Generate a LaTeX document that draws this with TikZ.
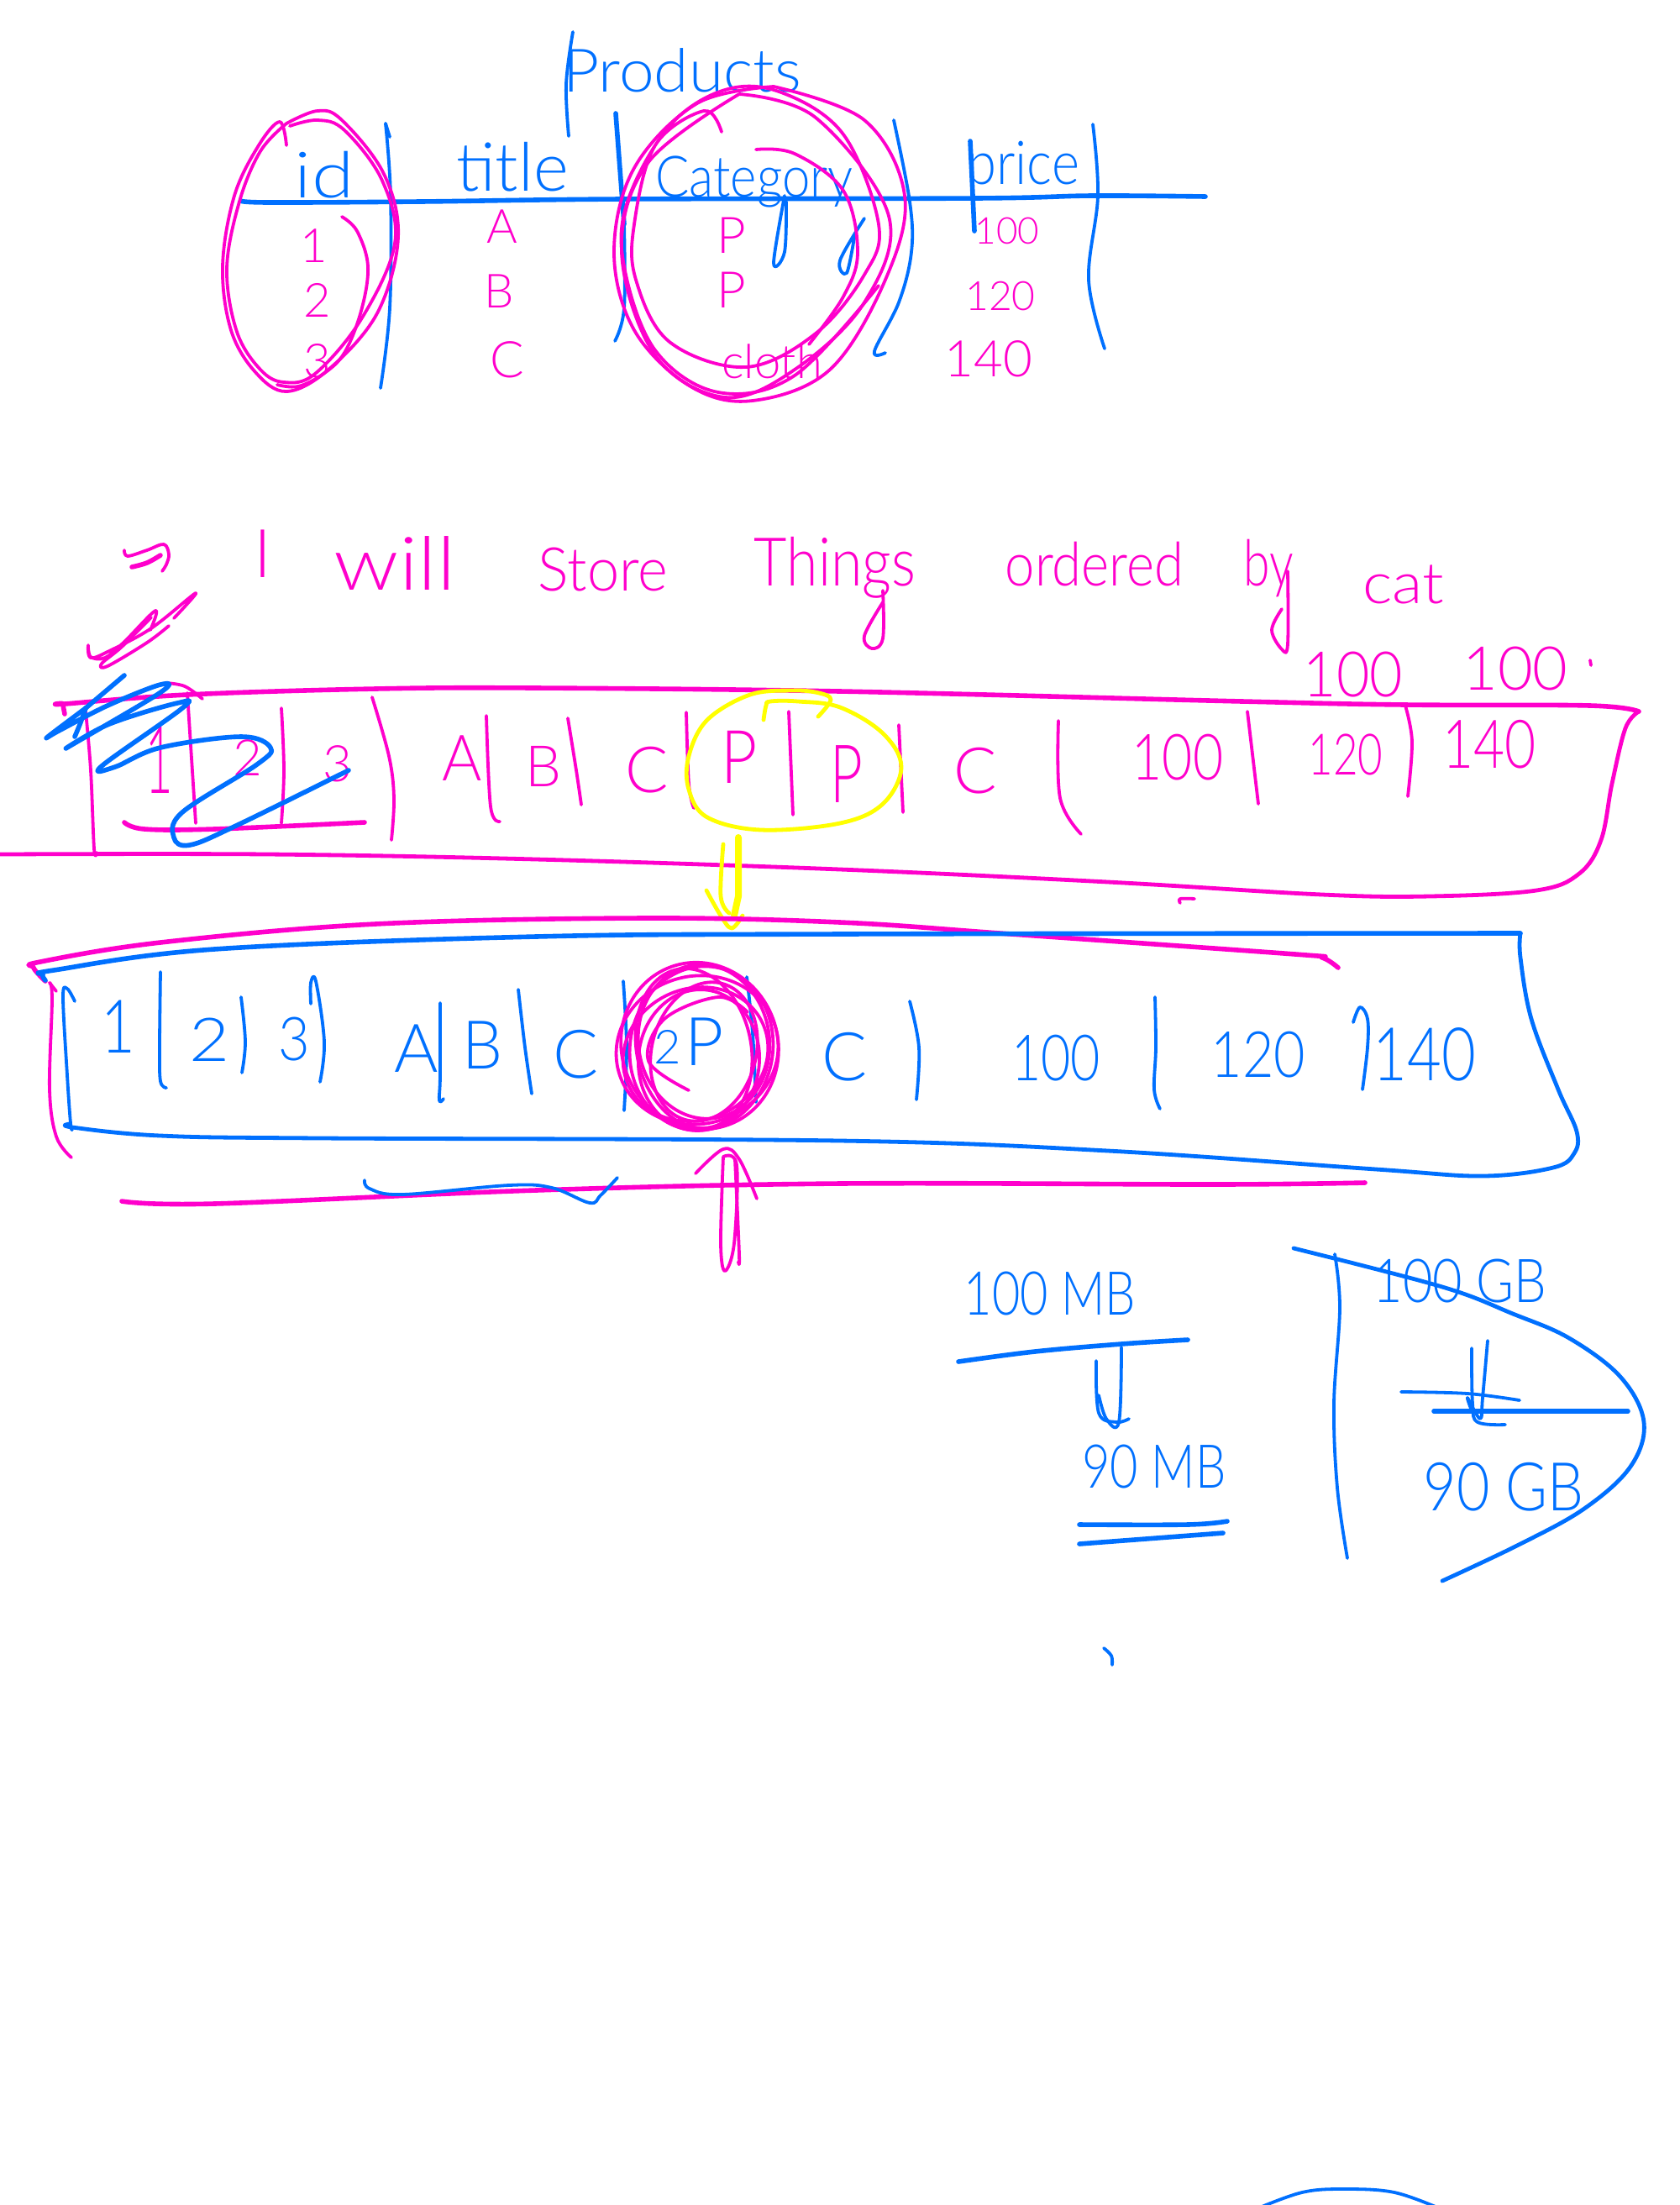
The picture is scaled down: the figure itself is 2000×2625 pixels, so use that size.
\documentclass[tikz,border=0pt]{standalone}
\usepackage{fontspec}
\usepackage{graphicx}
\setmainfont{Lato Light}
\definecolor{mag}{RGB}{255,0,204}
\definecolor{blu}{RGB}{0,112,255}
\definecolor{yel}{RGB}{255,255,0}
\newcommand\hand[4]{\fontsize{#1}{#1}\selectfont\scalebox{#2}[#3]{#4}}
\newcommand\pen[2]{\draw[#1] plot[smooth,tension=.6] coordinates {#2};}
\tikzset{
 bt/.style={draw=blu,line width=.95pt,line cap=round,line join=round},
 bm/.style={draw=blu,line width=1.2pt,line cap=round,line join=round},
 bw/.style={draw=blu,line width=1.4pt,line cap=round,line join=round},
 mt/.style={draw=mag,line width=.95pt,line cap=round,line join=round},
 mm/.style={draw=mag,line width=1.2pt,line cap=round,line join=round},
 mw/.style={draw=mag,line width=1.4pt,line cap=round,line join=round},
 yw/.style={draw=yel,line width=1.2pt,line cap=round,line join=round},
 hb/.style={text=blu,inner sep=0pt},
 hm/.style={text=mag,inner sep=0pt}
}
\begin{document}
\begin{tikzpicture}[x=.25pt,y=-.25pt]
\useasboundingbox (0,0) rectangle (2000,2625);
\fill[white] (0,0) rectangle (2000,2625);
\clip (0,0) rectangle (2000,2625);
% ---- table
\pen{bw}{(287,239) (320,241) (500,240) (739,237) (1162,236) (1300,233) (1435,234)}
\pen{bt}{(459,147) (464,163)}
\pen{bt}{(459,147) (465,233) (464,367) (453,462)}
\pen{bt}{(682,38) (674,100) (677,162)}
\pen{bw}{(733,135) (743,267)}
\pen{bt}{(743,267) (743,367) (732,406)}
\pen{bt}{(1064,143) (1083,240) (1085,300) (1070,360) (1041,418) (1054,420)}
\pen{bw}{(1155,168) (1160,275)}
\pen{bt}{(1301,148) (1307,233) (1296,333) (1315,415)}
\node[hb] (tprod) at (812,84) {\hand{17}{1.1}{1.05}{Products}};
\node[hb] (tid) at (386,208) {\hand{19}{1.2}{1}{id}};
\node[hb] (ttitle) at (610,199) {\hand{20}{1}{1}{title}};
\node[hb] (tcat) at (898,216) {\hand{17}{.88}{1}{Category}};
\node[hb] (tprice) at (1218,200) {\hand{18}{.88}{1}{price}};
\pen{bt}{(934,233) (921,313) (934,300) (936,240)}
\pen{bt}{(1029,260) (1000,310) (1008,325) (1017,283)}
\node[hm] (t1) at (374,293) {\hand{14}{1}{1}{1}};
\node[hm] (t2) at (378,357) {\hand{14}{1}{1}{2}};
\node[hm] (t3) at (378,430) {\hand{14}{1}{1}{3}};
\node[hm] (tA) at (598,270) {\hand{14}{1}{1}{A}};
\node[hm] (tB) at (594,347) {\hand{14}{1}{1}{B}};
\node[hm] (tC) at (604,428) {\hand{15}{1}{1}{C}};
\node[hm] (tP1) at (871,280) {\hand{15}{1}{1}{P}};
\node[hm] (tP2) at (871,345) {\hand{15}{1}{1}{P}};
\node[hm] (tcl) at (919,430) {\hand{14}{1}{1}{cloth}};
\node[hm] (t100) at (1199,275) {\hand{11}{1}{1}{100}};
\node[hm] (t120) at (1191,352) {\hand{12}{1}{1}{120}};
\node[hm] (t140) at (1177,427) {\hand{15}{1}{1}{140}};
% table ellipses
\pen{mt}{(341,173) (333,145) (308,173) (279,233) (265,317) (275,393) (304,443) (341,466) (391,440) (449,373) (474,283) (457,207) (407,143) (378,132) (341,147)}
\pen{mt}{(341,147) (310,180) (285,240) (270,320) (282,395) (310,440) (338,455) (375,445) (430,380) (470,290) (455,215) (410,155) (378,143) (345,150)}
\pen{mt}{(407,258) (425,275) (438,317) (430,370) (410,420) (385,445) (355,460) (330,458)}
\pen{mt}{(921,103) (1029,143) (1077,233) (1054,333) (988,440) (896,477) (822,460) (755,393) (731,300) (755,200) (830,123) (921,103)}
\pen{mt}{(880,112) (971,140) (1058,257) (1029,360) (946,440) (863,473) (780,423) (740,300) (772,193) (880,112)}
\pen{mt}{(859,157) (838,132) (780,173) (755,267) (757,333) (797,407) (888,437) (971,397) (1029,327) (1046,267) (1004,160) (930,110) (863,107) (797,150) (747,240) (743,317) (780,417) (855,467) (946,447) (1046,340)}
\pen{mt}{(900,178) (946,183) (1004,227) (1021,300) (1004,353) (963,410)}
% ---- sentence
\pen{mt}{(148,655) (152,662) (175,655) (195,648) (201,660) (198,672) (193,680)}
\pen{mw}{(157,675) (175,670) (191,661)}
\node[hm] (sI) at (313,659) {\hand{20}{1}{1}{I}};
\node[hm,anchor=base] (swill) at (470,702) {\hand{22}{1.15}{1}{will}};
\node[hm,anchor=base] (sstore) at (718,703) {\hand{18}{.95}{1}{Store}};
\node[hm,anchor=base] (sthings) at (994,697) {\hand{20}{.85}{1}{Things}};
\node[hm,anchor=base] (sord) at (1303,697) {\hand{18}{.88}{1}{ordered}};
\node[hm,anchor=base] (sby) at (1510,697) {\hand{19}{.75}{1}{by}};
\node[hm,anchor=base] (scat) at (1671,718) {\hand{17}{1.1}{1}{cat}};
\pen{mt}{(1051,703) (1051,760) (1038,772) (1029,757) (1051,717)}
\pen{mt}{(1533,680) (1533,767) (1526,773) (1514,750) (1526,725)}
% scribbles
\pen{mt}{(207,736) (233,706) (180,748) (130,775) (108,783) (105,768) (108,782) (125,783) (147,765) (185,727) (179,750)}
\pen{mt}{(201,745) (175,765) (128,793) (121,790) (145,770) (180,735)}
% ---- row 1
\node[hm] (n100a) at (1611,803) {\hand{17}{1}{1.1}{100}};
\node[hm] (n100b) at (1804,796) {\hand{18}{1}{1}{100}};
\pen{mt}{(1893,786) (1894,792)}
\pen{mw}{(77,850) (75,838) (77,838) (223,827) (447,820) (638,819) (1000,823) (1479,835) (1673,839) (1893,840) (1951,847)}
\pen{mm}{(1951,847) (1935,867) (1919,933) (1906,1000) (1880,1040) (1829,1060) (1702,1067) (1574,1065) (1319,1050) (1000,1035) (638,1023) (319,1017) (0,1017)}
\pen{mt}{(102,847) (108,917) (112,1010) (115,1015)}
\pen{mt}{(197,813) (220,817) (241,832)}
\pen{mt}{(223,825) (233,980)}
\pen{mt}{(335,843) (338,917) (335,980)}
\pen{mt}{(443,830) (463,900) (469,950) (466,1000)}
\pen{mt}{(579,852) (584,960) (595,978)}
\pen{mt}{(676,855) (686,917) (692,958)}
\pen{mt}{(817,848) (820,933) (826,962)}
\pen{mt}{(939,847) (944,970)}
\pen{mt}{(1070,863) (1075,967)}
\pen{mt}{(1260,858) (1262,950) (1287,993)}
\pen{mt}{(1485,847) (1498,957)}
\pen{mt}{(1673,840) (1681,883) (1676,948)}
\pen{mw}{(148,979) (172,987) (255,987) (434,979)}
\node[hm] (r1a) at (190,905) {\hand{14}{1}{2}{1}};
\node[hm] (r1b) at (295,902) {\hand{15}{1}{1}{2}};
\node[hm] (r1c) at (402,909) {\hand{15}{1}{1}{3}};
\node[hm] (r1d) at (550,903) {\hand{19}{.95}{1}{A}};
\node[hm] (r1e) at (647,912) {\hand{17}{1}{1}{B}};
\node[hm] (r1f) at (770,917) {\hand{19}{1}{1}{C}};
\node[hm] (r1g) at (880,901) {\hand{22}{.85}{1}{P}};
\node[hm] (r1h) at (1008,922) {\hand{24}{.7}{1}{P}};
\node[hm] (r1i) at (1161,918) {\hand{19}{1}{1}{C}};
\node[hm] (r1j) at (1402,902) {\hand{19}{.82}{1}{100}};
\node[hm] (r1k) at (1602,898) {\hand{17}{.75}{1}{120}};
\node[hm] (r1l) at (1773,886) {\hand{20}{.8}{1}{140}};
% blue scribble
\pen{bw}{(148,804) (102,843)}
\pen{bw}{(102,843) (57,877) (70,870) (128,840) (191,815) (190,825) (80,890) (130,862) (211,837) (217,843) (121,912) (137,913) (191,890) (287,877) (322,890) (306,910) (217,967) (207,997) (226,1006) (281,983) (415,917)}
\pen{bw}{(89,877) (96,860) (102,843)}
% yellow
\pen{yw}{(974,853) (989,833) (975,825) (944,822) (893,827) (842,857) (820,900) (820,940) (842,973) (906,988) (1000,980) (1051,957) (1073,913) (1051,873) (1000,842) (950,835) (917,835) (912,840) (909,857)}
\pen{yw}{(861,1005) (858,1067) (868,1087)}
\draw[yel,line width=2pt,line cap=round] (879,997) -- (879,1067) -- (874,1090);
\pen{yw}{(841,1060) (858,1090) (871,1105) (884,1090)}
% ---- row 2
\pen{mw}{(54,1168) (40,1152) (48,1145) (191,1122) (447,1100) (766,1093) (1000,1098) (1204,1112) (1542,1136) (1574,1140) (1593,1152)}
\pen{mt}{(59,1170) (67,1180)}
\pen{mt}{(59,1170) (62,1190) (59,1297) (67,1353) (85,1378)}
\pen{bw}{(54,1167) (51,1160) (64,1155) (255,1130) (638,1115) (1000,1112) (1810,1111)}
\pen{bm}{(1810,1111) (1810,1140) (1823,1213) (1855,1297) (1877,1347) (1874,1373) (1849,1390) (1765,1400) (1638,1392) (1319,1370) (1000,1358) (383,1355) (191,1352) (86,1342) (83,1338)}
\pen{bt}{(89,1192) (80,1177) (75,1187) (80,1280) (84,1337) (86,1345)}
\pen{bt}{(191,1157) (190,1247) (191,1287) (198,1295)}
\pen{bt}{(287,1187) (292,1240) (288,1277)}
\pen{bt}{(370,1195) (370,1170) (376,1168) (386,1240) (381,1288)}
\pen{bt}{(524,1194) (524,1280) (523,1310) (528,1308)}
\pen{bt}{(617,1178) (625,1247) (633,1302)}
\pen{bt}{(742,1168) (746,1247) (743,1322)}
\pen{bt}{(889,1163) (896,1230) (900,1312)}
\pen{bt}{(1083,1192) (1094,1247) (1091,1309)}
\pen{bt}{(1375,1187) (1376,1247) (1374,1297) (1381,1320)}
\pen{bt}{(1611,1217) (1619,1199) (1628,1213) (1628,1247) (1622,1297)}
\node[hb] (r2a) at (141,1222) {\hand{22}{.8}{1}{1}};
\node[hb] (r2b) at (250,1238) {\hand{18}{1.15}{1}{2}};
\node[hb] (r2c) at (350,1237) {\hand{18}{.9}{1}{3}};
\node[hb] (r2d) at (496,1248) {\hand{20}{1}{1}{A}};
\node[hb] (r2e) at (575,1244) {\hand{20}{.95}{1}{B}};
\node[hb] (r2f) at (686,1255) {\hand{20}{1}{1}{C}};
\node[hb] (r2g) at (839,1240) {\hand{20}{1}{1}{P}};
\node[hb] (r2h) at (795,1246) {\hand{14}{1}{1}{2}};
\node[hb] (r2i) at (1006,1258) {\hand{20}{1}{1}{C}};
\node[hb] (r2j) at (1257,1260) {\hand{19}{.8}{1}{100}};
\node[hb] (r2k) at (1498,1256) {\hand{19}{.85}{1}{120}};
\node[hb] (r2l) at (1696,1255) {\hand{22}{.8}{1}{140}};
% pink scribble
\draw[mt] (833,1245) ellipse [x radius=93,y radius=100,rotate=20];
\draw[mt] (835,1248) ellipse [x radius=85,y radius=98,rotate=-10];
\draw[mt] (830,1250) ellipse [x radius=97,y radius=88,rotate=15];
\draw[mt] (838,1240) ellipse [x radius=78,y radius=92,rotate=8];
\draw[mt] (826,1248) ellipse [x radius=68,y radius=96,rotate=12];
\draw[mt] (832,1262) ellipse [x radius=72,y radius=84,rotate=-5];
\draw[mt] (828,1255) ellipse [x radius=88,y radius=78,rotate=25];
\draw[mt] (838,1252) ellipse [x radius=62,y radius=84,rotate=-15];
\pen{mt}{(820,1298) (772,1263) (791,1213) (855,1187) (890,1205)}
% under row 2
\pen{mw}{(145,1430) (255,1433) (638,1417) (1000,1409) (1446,1410) (1625,1408)}
\pen{bt}{(434,1405) (440,1415) (479,1422) (606,1411) (657,1414) (702,1432) (715,1423) (735,1402)}
\pen{mt}{(861,1377) (858,1480) (863,1513) (874,1480) (877,1387) (861,1377)}
\pen{mt}{(875,1380) (880,1493) (879,1502)}
\pen{mt}{(828,1397) (861,1368) (880,1380) (901,1427)}
\pen{mt}{(1405,1075) (1405,1070) (1422,1070)}
% ---- bottom right
\node[hb] (b1) at (1250,1540) {\hand{18}{.8}{1}{100 MB}};
\node[hb] (b2) at (1374,1746) {\hand{18}{.8}{1}{90 MB}};
\node[hb] (b3) at (1738,1525) {\hand{18}{.85}{1}{100 GB}};
\node[hb] (b4) at (1790,1770) {\hand{20}{.85}{1}{90 GB}};
\pen{bw}{(1141,1621) (1232,1609) (1335,1600) (1414,1595)}
\pen{bt}{(1305,1620) (1308,1682) (1329,1693) (1344,1689)}
\pen{bt}{(1335,1604) (1332,1693) (1317,1689) (1308,1661)}
\pen{bw}{(1285,1815) (1414,1815) (1461,1811)}
\pen{bw}{(1285,1838) (1456,1825)}
\pen{bt}{(1589,1493) (1595,1557) (1588,1671) (1592,1771) (1604,1855)}
\pen{bm}{(1540,1486) (1717,1532) (1801,1564) (1868,1593) (1929,1639) (1957,1693) (1941,1746) (1886,1796) (1808,1839) (1717,1882)}
\pen{bt}{(1752,1605) (1753,1671) (1759,1693) (1792,1696)}
\pen{bt}{(1771,1596) (1765,1664) (1762,1689) (1747,1664) (1753,1682)}
\pen{bt}{(1668,1657) (1747,1659) (1809,1667)}
\draw[bw] (1707,1680) -- (1938,1680);
\pen{bt}{(1314,1962) (1323,1971) (1324,1982)}
\pen{bt}{(1495,2630) (1550,2610) (1600,2606) (1660,2610) (1716,2630)}
\end{tikzpicture}
\end{document}
